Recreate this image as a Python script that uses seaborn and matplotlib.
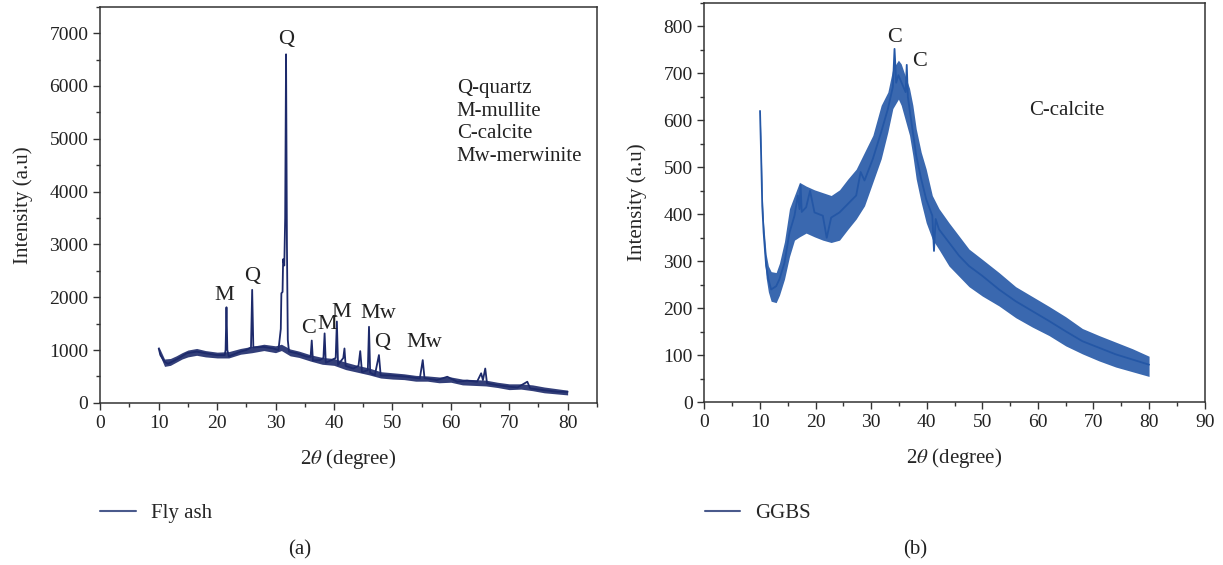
"""
XRD patterns of fly ash and GGBS.
"""

import matplotlib
matplotlib.use("Agg")
import matplotlib.pyplot as plt
import seaborn as sns
import pandas as pd
from matplotlib.ticker import MultipleLocator
from matplotlib.lines import Line2D


# -----------------------------------
# Data
# -----------------------------------

# fly ash trace (centre line with the sharp peaks)
fa_two_theta = [10.0, 10.3, 11.0, 11.6, 12.5, 13.5, 14.8, 16.5, 18.0, 19.9,
                21.3, 21.45, 21.6, 21.75, 22.0, 24.0, 25.0, 25.8, 26.0, 26.2,
                27.9, 29.6, 30.5, 30.9, 31.0, 31.2, 31.3, 31.5, 31.65, 31.8,
                31.95, 32.1, 32.3, 33.6, 35.3, 36.0, 36.2, 36.4, 37.6, 38.2,
                38.4, 38.6, 39.6, 40.3, 40.5, 40.7, 41.6, 41.8, 42.0, 43.3,
                44.2, 44.5, 44.8, 45.8, 46.0, 46.2, 47.0, 47.7, 48.0, 49.6,
                52.5, 54.7, 55.2, 55.5, 57.6, 59.4, 61.1, 62.8, 64.5, 65.2,
                65.5, 65.9, 66.2, 67.9, 70.2, 71.4, 73.1, 73.6, 76.0, 78.3,
                80.0]
fa_intensity = [1030, 900, 780, 740, 790, 850, 940, 970, 940, 905,
                905, 1000, 1810, 1000, 880, 970, 1000, 1050, 2140, 1050,
                1060, 1030, 1000, 1400, 2075, 2100, 2720, 2600, 3500, 6600,
                3000, 1190, 970, 940, 875, 870, 1180, 800, 810, 850,
                1315, 760, 810, 850, 1540, 720, 850, 1030, 700, 650,
                700, 980, 580, 620, 1440, 570, 525, 905, 520, 520,
                494, 462, 810, 470, 430, 494, 400, 420, 400, 560,
                430, 650, 370, 335, 304, 290, 400, 272, 240, 209,
                209]

# fly ash noise band
fa_band_x = [10, 11, 12, 13, 14, 15, 16.5, 18, 20, 22, 24, 26, 28, 30, 31,
             32.5, 34, 36, 38, 40, 42, 44, 46, 48, 50, 52, 54, 56, 58, 60,
             62, 64, 66, 68, 70, 72, 74, 76, 78, 80]
fa_band_lo = [950, 690, 710, 770, 830, 870, 900, 870, 850, 850, 920, 950, 990,
              950, 990, 890, 860, 790, 730, 710, 630, 580, 530, 470, 450, 440,
              410, 410, 380, 390, 340, 330, 320, 290, 250, 260, 230, 190, 170,
              150]
fa_band_hi = [1070, 830, 840, 890, 950, 1000, 1030, 990, 960, 970, 1030, 1070,
              1110, 1080, 1110, 1020, 980, 910, 860, 840, 770, 710, 660, 590,
              570, 550, 520, 510, 490, 490, 450, 440, 430, 390, 360, 360, 340,
              300, 270, 240]

# GGBS trace
gg_two_theta = [10.0, 10.2, 10.4, 10.65, 11.1, 11.5, 12.0, 12.9, 13.5, 14.4,
                15.3, 16.2, 16.8, 17.1, 17.3, 17.5, 18.3, 19.0, 19.8, 21.3,
                22.0, 22.8, 24.3, 25.8, 27.3, 28.1, 28.8, 30.3, 31.8, 33.0,
                33.9, 34.2, 34.5, 34.9, 35.4, 36.2, 36.4, 36.6, 36.9, 37.5,
                38.1, 39.0, 39.9, 41.0, 41.3, 41.6, 42.2, 44.0, 45.8, 47.6,
                50.0, 53.0, 56.0, 59.0, 62.0, 65.0, 68.0, 71.0, 74.0, 77.0,
                80.0]
gg_intensity = [620, 525, 418, 361, 290, 262, 240, 247, 262, 297,
                361, 397, 440, 411, 462, 405, 415, 450, 404, 397,
                350, 393, 404, 422, 440, 490, 472, 518, 575, 624,
                671, 752, 680, 696, 682, 660, 718, 650, 624, 575,
                525, 475, 432, 397, 322, 390, 368, 340, 312, 290,
                269, 240, 215, 194, 173, 151, 130, 116, 102, 91,
                80]

# GGBS noise band
gg_band_x = [10.0, 10.2, 10.4, 10.65, 11.1, 11.5, 12.0, 12.9, 13.5, 14.4,
             15.3, 16.2, 17.1, 18.3, 19.8, 21.3, 22.8, 24.3, 25.8, 27.3,
             28.8, 30.3, 31.8, 33.0, 33.9, 34.9, 35.4, 36.9, 37.5, 38.1,
             39.0, 39.9, 41.0, 42.2, 44.0, 45.8, 47.6, 50.0, 53.0, 56.0,
             59.0, 62.0, 65.0, 68.0, 71.0, 74.0, 77.0, 80.0]
gg_band_lo = [610, 500, 395, 340, 265, 235, 215, 212, 228, 262,
              310, 345, 352, 360, 352, 345, 340, 345, 368, 390,
              418, 468, 518, 575, 625, 645, 632, 568, 525, 475,
              425, 382, 347, 325, 290, 268, 246, 226, 205, 180,
              160, 142, 120, 103, 88, 75, 65, 55]
gg_band_hi = [624, 545, 440, 380, 315, 290, 278, 276, 296, 342,
              412, 440, 468, 460, 452, 446, 440, 452, 475, 496,
              532, 568, 632, 660, 710, 728, 720, 668, 632, 582,
              532, 496, 440, 412, 382, 354, 326, 304, 276, 246,
              225, 204, 182, 157, 142, 128, 114, 98]

# peak labels
fa_peak_labels = ["Q", "M", "Q", "C", "M", "M", "Mw", "Q", "Mw"]
fa_peak_x = [31.8, 21.3, 26.0, 35.6, 38.8, 41.3, 47.6, 48.2, 55.5]
fa_peak_y = [6880, 2030, 2400, 1400, 1480, 1720, 1690, 1140, 1140]
fa_key = ["Q-quartz", "M-mullite", "C-calcite", "Mw-merwinite"]

gg_peak_labels = ["C", "C"]
gg_peak_x = [34.2, 38.7]
gg_peak_y = [776, 725]
gg_key = ["C-calcite"]


# -----------------------------------
# Style
# -----------------------------------

sns.set_theme(style="ticks")
plt.rcParams["font.family"] = ["Liberation Serif", "DejaVu Serif"]
plt.rcParams["mathtext.fontset"] = "stix"
plt.rcParams["font.size"] = 14
plt.rcParams["axes.edgecolor"] = "#333333"
plt.rcParams["xtick.color"] = "#333333"
plt.rcParams["ytick.color"] = "#333333"
plt.rcParams["xtick.labelcolor"] = "#222222"
plt.rcParams["ytick.labelcolor"] = "#222222"

FLY_COLOR = "#1d2a6b"
GGBS_COLOR = "#2457a6"

fly = pd.DataFrame({"two_theta": fa_two_theta, "intensity": fa_intensity})
ggbs = pd.DataFrame({"two_theta": gg_two_theta, "intensity": gg_intensity})

fig = plt.figure(figsize=(12.23, 5.65), dpi=100)
ax_a = fig.add_axes([0.082, 0.287, 0.406, 0.701])
ax_b = fig.add_axes([0.576, 0.288, 0.409, 0.707])


def style_axis(ax, xmax, ymax, xmajor, ymajor, yminor):
    ax.set_xlim(0, xmax)
    ax.set_ylim(0, ymax)
    ax.xaxis.set_major_locator(MultipleLocator(xmajor))
    ax.xaxis.set_minor_locator(MultipleLocator(xmajor / 2))
    ax.yaxis.set_major_locator(MultipleLocator(ymajor))
    ax.yaxis.set_minor_locator(MultipleLocator(yminor))
    ax.tick_params(which="major", direction="out", length=5, width=1,
                   labelsize=14)
    ax.tick_params(which="minor", direction="out", length=3, width=1)
    for side in ["top", "right", "left", "bottom"]:
        ax.spines[side].set_visible(True)
        ax.spines[side].set_linewidth(1.1)
    ax.set_xlabel(r"2$\theta$ (degree)", fontsize=15, labelpad=11)
    ax.set_ylabel("Intensity (a.u)", fontsize=15, labelpad=12)


# -----------------------------------
# (a) Fly ash
# -----------------------------------

ax_a.fill_between(fa_band_x, fa_band_lo, fa_band_hi,
                  color=FLY_COLOR, linewidth=0, alpha=0.9)
sns.lineplot(data=fly, x="two_theta", y="intensity", ax=ax_a,
             color=FLY_COLOR, linewidth=1.3, estimator=None, sort=False)
style_axis(ax_a, 85, 7500, 10, 1000, 500)

for lab, px, py in zip(fa_peak_labels, fa_peak_x, fa_peak_y):
    ax_a.text(px, py, lab, ha="center", va="center", fontsize=16,
              color="#222222")

ax_a.text(61.0, 6130, "\n".join(fa_key), ha="left", va="top",
          fontsize=15, color="#222222", linespacing=1.25)

# -----------------------------------
# (b) GGBS
# -----------------------------------

ax_b.fill_between(gg_band_x, gg_band_lo, gg_band_hi,
                  color=GGBS_COLOR, linewidth=0, alpha=0.9)
sns.lineplot(data=ggbs, x="two_theta", y="intensity", ax=ax_b,
             color=GGBS_COLOR, linewidth=1.3, estimator=None, sort=False)
style_axis(ax_b, 90, 850, 10, 100, 50)

for lab, px, py in zip(gg_peak_labels, gg_peak_x, gg_peak_y):
    ax_b.text(px, py, lab, ha="center", va="center", fontsize=16,
              color="#222222")

ax_b.text(58.5, 620, gg_key[0], ha="left", va="center", fontsize=15,
          color="#222222")

# -----------------------------------
# Legends and panel letters
# -----------------------------------

fig.legend([Line2D([], [], color="#4a5a8c", linewidth=1.5)], ["Fly ash"],
           loc="center left", bbox_to_anchor=(0.082, 0.092), frameon=False,
           fontsize=15, handlelength=1.7, handletextpad=0.72,
           borderpad=0, borderaxespad=0)
fig.legend([Line2D([], [], color="#4a5a8c", linewidth=1.5)], ["GGBS"],
           loc="center left", bbox_to_anchor=(0.5765, 0.092), frameon=False,
           fontsize=15, handlelength=1.7, handletextpad=0.72,
           borderpad=0, borderaxespad=0)

fig.text(0.245, 0.027, "(a)", ha="center", va="center", fontsize=15,
         color="#222222")
fig.text(0.748, 0.027, "(b)", ha="center", va="center", fontsize=15,
         color="#222222")

fig.savefig("out.png", dpi=100)
plt.close(fig)
